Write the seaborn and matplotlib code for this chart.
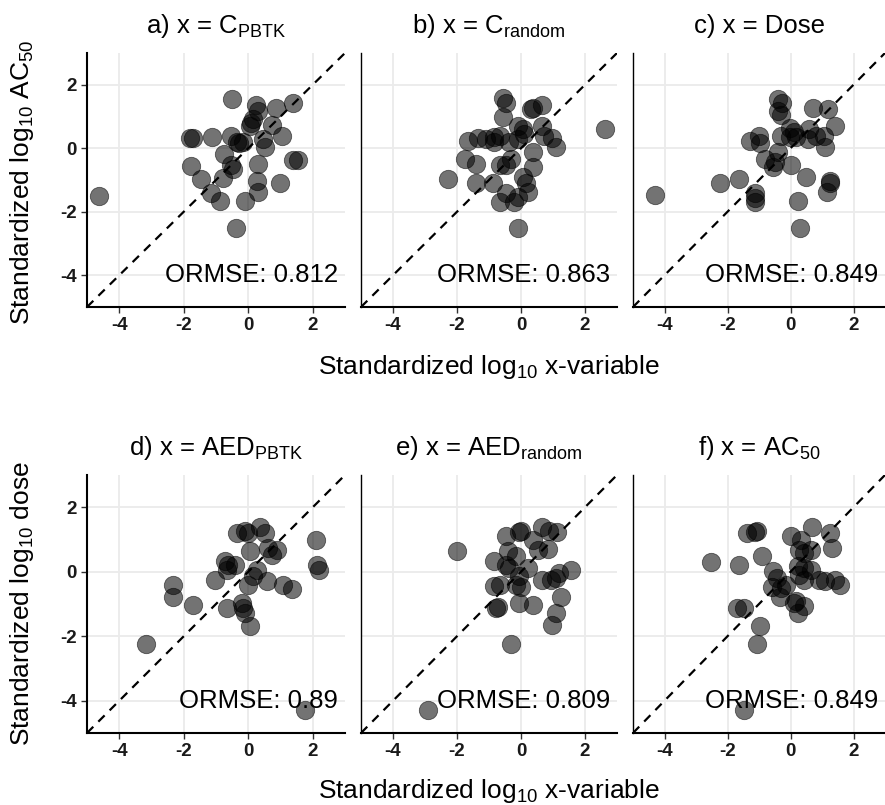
import matplotlib
matplotlib.use("Agg")
import matplotlib.pyplot as plt
import seaborn as sns
import pandas as pd

# ---------------- data ----------------
panel_titles = [r"a) x = C$_{\mathrm{PBTK}}$", r"b) x = C$_{\mathrm{random}}$", r"c) x = Dose",
                r"d) x = AED$_{\mathrm{PBTK}}$", r"e) x = AED$_{\mathrm{random}}$", r"f) x = AC$_{50}$"]
ormse_labels = ["ORMSE: 0.812", "ORMSE: 0.863", "ORMSE: 0.849",
                "ORMSE: 0.89", "ORMSE: 0.809", "ORMSE: 0.849"]
row_ylabels = [r"Standardized log$_{10}$ AC$_{50}$", r"Standardized log$_{10}$ dose"]
xlabel_text = r"Standardized log$_{10}$ x-variable"
tick_values = [-4, -2, 0, 2]

a_x = [-4.64, -0.49, 0.23, 0.85, 1.40, 0.31, 0.16, 0.05, 0.73, 1.04, -1.71, -1.81, -1.11, -0.52,
       -0.36, -0.16, 0.45, 0.52, -0.75, -0.52, -0.47, -1.76, 0.31, 1.40, 1.55, -1.45, -0.78, 0.26,
       0.31, 0.98, -1.14, -0.88, -0.10, -0.38, 0.10, -0.30]
a_y = [-1.50, 1.54, 1.35, 1.28, 1.41, 1.17, 0.91, 0.69, 0.73, 0.39, 0.32, 0.32, 0.37, 0.39,
       0.21, 0.19, 0.29, 0.03, -0.18, -0.54, -0.64, -0.56, -0.49, -0.38, -0.38, -0.96, -0.93, -1.04,
       -1.37, -1.08, -1.42, -1.66, -1.66, -2.51, 0.80, 0.15]

b_x = [2.61, -0.57, -0.47, -0.57, 0.31, 0.39, 0.67, -0.10, 0.05, 0.10, 0.67, 0.72, 0.98, 1.09,
       -1.66, -1.35, -1.09, -0.83, -0.67, -0.83, -0.36, -0.10, 0.36, -1.76, -1.40, -0.67, -0.31,
       -0.47, 0.36, -2.28, -1.40, -0.88, 0.05, 0.16, 0.21, -0.47, -0.67, -0.21, -0.10, -0.10]
b_y = [0.62, 1.59, 1.43, 0.97, 1.23, 1.28, 1.36, 0.71, 0.60, 0.45, 0.69, 0.39, 0.31, 0.03,
       0.24, 0.31, 0.29, 0.34, 0.39, 0.19, 0.19, 0.29, -0.12, -0.33, -0.49, -0.54, -0.33,
       -0.54, -0.59, -0.96, -1.08, -1.11, -0.90, -1.11, -1.37, -1.42, -1.68, -1.68, -1.53, -2.51]

c_x = [-4.29, -0.39, -0.27, -0.39, -0.29, 0.72, 1.19, 1.40, -1.27, -1.01, -0.96, -0.29, -0.03,
       0.12, 0.18, -0.03, 0.59, 0.54, 0.80, 1.05, 1.11, -0.81, -0.50, -0.39, -0.55, 0.02, 0.49,
       -2.23, -1.65, -1.12, -1.12, -1.12, 0.23, 0.31, 1.24, 1.26, 1.16]
c_y = [-1.47, 1.54, 1.41, 1.17, 1.04, 1.28, 1.25, 0.71, 0.24, 0.39, 0.17, 0.39, 0.65,
       0.50, 0.34, 0.34, 0.60, 0.29, 0.39, 0.39, 0.03, -0.33, -0.44, -0.12, -0.59, -0.52, -0.90,
       -1.11, -0.96, -1.42, -1.68, -1.56, -1.66, -2.51, -1.08, -1.04, -1.37]

d_x = [-3.18, 1.76, 2.09, 2.14, 2.18, 0.36, -0.36, -0.10, 0.00, 0.52, 0.05, 0.62, 0.88, 0.73,
       -0.73, -0.62, -0.41, -0.67, -1.04, 0.26, 0.16, 0.00, 0.57, 1.09, 1.35, -2.33, -2.33,
       -1.71, -0.67, -0.19, -0.16, -0.10, 0.05]
d_y = [-2.23, -4.28, 0.97, 0.22, 0.06, 1.39, 1.20, 1.25, 1.20, 1.20, 0.63, 0.73, 0.68, 0.53,
       0.32, 0.22, 0.22, 0.06, -0.25, 0.06, -0.14, -0.40, -0.30, -0.40, -0.54, -0.40, -0.77,
       -1.02, -1.13, -0.97, -1.13, -1.28, -1.68]

e_x = [-2.90, -1.99, -0.31, -0.47, -0.05, 0.00, 0.67, 0.88, 1.14, 0.36, 0.52, 0.83, -0.41, -0.16,
       -0.83, -0.47, -0.36, 0.21, -0.05, 0.67, 0.93, 1.09, 1.19, 1.55, -0.83, -0.67, 0.00, 1.24,
       -0.72, -0.78, -0.05, 0.36, 1.09, 0.98, -0.16]
e_y = [-4.28, 0.63, -2.23, 1.12, 1.22, 1.25, 1.39, 1.25, 1.22, 0.99, 0.68, 0.70, 0.63, 0.48,
       0.32, 0.22, 0.11, 0.11, -0.14, -0.25, -0.25, -0.20, -0.04, 0.06, -0.43, -0.40, -0.48, -0.77,
       -1.08, -1.13, -0.97, -1.02, -1.28, -1.64, -0.40]

f_x = [-1.48, -2.51, -1.65, -1.38, -1.12, -1.07, -0.91, 0.00, 0.69, 1.26, 1.31, 0.28, 0.43, 0.64,
       0.33, 0.23, 0.43, 0.28, 0.43, 0.64, 0.90, 1.11, 1.42, 1.57, -0.55, -0.44, -0.60, -0.34,
       -0.13, -0.29, -1.69, -1.48, 0.12, 0.43, 0.23, -0.96, -1.07, 0.18]
f_y = [-4.28, 0.29, 0.22, 1.20, 1.22, 1.25, 0.48, 1.10, 1.39, 1.20, 0.73, 0.68, 0.58, 0.68,
       0.99, 0.17, 0.11, -0.09, -0.25, 0.06, -0.25, -0.30, -0.25, -0.40, 0.01, -0.20, -0.46, -0.77,
       -0.40, -0.51, -1.13, -1.13, -0.97, -1.05, -1.28, -1.68, -2.23, -0.92]

xs = [a_x, b_x, c_x, d_x, e_x, f_x]
ys = [a_y, b_y, c_y, d_y, e_y, f_y]

frames = []
for i, (xv, yv) in enumerate(zip(xs, ys)):
    frames.append(pd.DataFrame({"x": xv, "y": yv, "panel": i}))
df = pd.concat(frames, ignore_index=True)

# ---------------- styling ----------------
sns.set_theme(style="whitegrid")
plt.rcParams["font.family"] = ["Liberation Sans", "DejaVu Sans"]
plt.rcParams["mathtext.fontset"] = "custom"
plt.rcParams["mathtext.rm"] = "Liberation Sans"
plt.rcParams["mathtext.it"] = "Liberation Sans:italic"
plt.rcParams["mathtext.bf"] = "Liberation Sans:bold"
plt.rcParams["text.color"] = "black"

W, H = 885, 805
fig = plt.figure(figsize=(W / 100, H / 100), dpi=100)
fig.patch.set_facecolor("white")

col_px = [(87, 345), (361, 617), (633, 885)]
row_px = [(53, 307), (475, 733)]

axes = []
for r in range(2):
    for c in range(3):
        l, rr = col_px[c]
        t, b = row_px[r]
        ax = fig.add_axes([l / W, 1 - b / H, (rr - l) / W, (b - t) / H])
        axes.append(ax)

for i, ax in enumerate(axes):
    r, c = divmod(i, 3)
    sub = df[df["panel"] == i]
    ax.set_facecolor("white")
    ax.grid(True, color="#ebebeb", linewidth=1.3)
    ax.set_axisbelow(True)
    sns.scatterplot(data=sub, x="x", y="y", ax=ax, color="black", alpha=0.55,
                    s=175, edgecolor="black", linewidth=0.6, zorder=3, legend=False)
    ax.plot([-5, 3], [-5, 3], color="black", linestyle=(0, (4, 3.2)), linewidth=1.6, zorder=4)
    ax.set_xlim(-5, 3)
    ax.set_ylim(-5, 3)
    ax.set_xticks(tick_values)
    ax.set_yticks(tick_values)
    ax.set_xticklabels([str(v) for v in tick_values])
    ax.set_xlabel("")
    ax.set_ylabel("")
    for side in ["top", "right"]:
        ax.spines[side].set_visible(False)
    for side in ["left", "bottom"]:
        ax.spines[side].set_visible(True)
        ax.spines[side].set_color("black")
        ax.spines[side].set_linewidth(1.5)
    ax.tick_params(axis="x", which="both", bottom=True, length=4, width=1.0, color="#333333",
                   labelsize=13.5, pad=3.5)
    if c == 0:
        ax.set_yticklabels([str(v) for v in tick_values])
        ax.tick_params(axis="y", left=True, length=4, width=1.0, color="#333333",
                       labelsize=13.5, pad=3.5)
    else:
        ax.set_yticklabels([])
        ax.tick_params(axis="y", left=False, length=0)
        ax.spines["left"].set_linewidth(1.0)
    for lab in ax.get_xticklabels() + ax.get_yticklabels():
        lab.set_fontweight("bold")
        lab.set_color("#1a1a1a")
    ax.text(2.78, -4.0, ormse_labels[i], ha="right", va="center", fontsize=18.5,
            color="black", zorder=5)
    ax.set_title(panel_titles[i], fontsize=18.5, pad=14.5, color="black")

# shared axis labels
fig.text(489 / W, 1 - 374 / H, xlabel_text, ha="center", va="baseline", fontsize=19, color="black")
fig.text(489 / W, 1 - 798 / H, xlabel_text, ha="center", va="baseline", fontsize=19, color="black")
fig.text(22 / W, 1 - 182 / H, row_ylabels[0], ha="center", va="center", rotation=90,
         fontsize=19, color="black")
fig.text(22 / W, 1 - 604 / H, row_ylabels[1], ha="center", va="center", rotation=90,
         fontsize=19, color="black")

fig.savefig("out.png", dpi=100, facecolor="white")
